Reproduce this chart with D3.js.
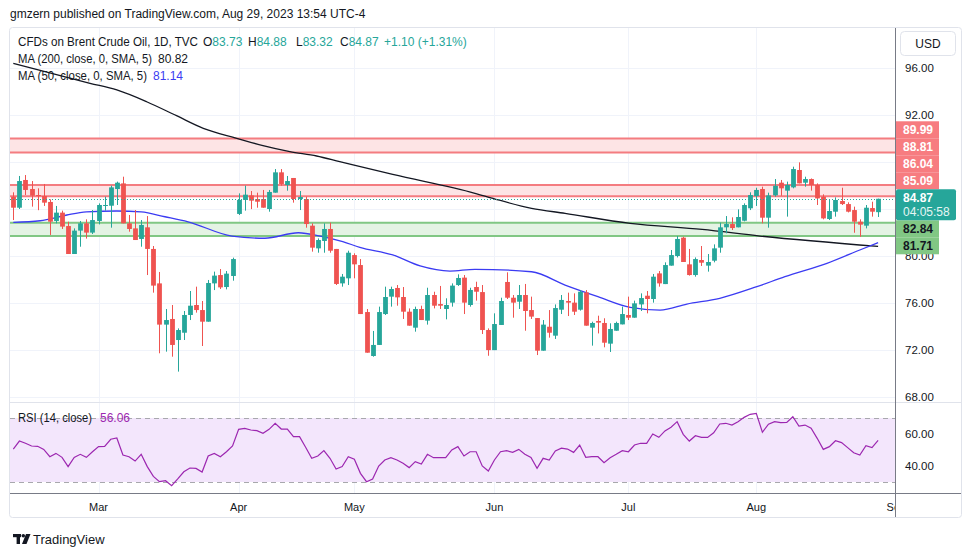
<!DOCTYPE html>
<html><head><meta charset="utf-8">
<script src="https://cdn.jsdelivr.net/npm/d3@7/dist/d3.min.js"></script>
<style>
html,body{margin:0;padding:0;background:#fff;}
svg{display:block;font-family:"Liberation Sans",Arial,sans-serif;}
</style></head><body>
<svg id="c" width="970" height="557"></svg>
<script>
// ---------- DATA (daily candles, Feb 9 – Aug 29, 2023) ----------
const opens=[85.05,84.11,86.47,85.70,85.19,85.11,84.60,82.98,83.69,82.55,80.17,82.16,82.78,81.99,82.98,84.30,84.28,85.70,86.18,82.78,
82.35,81.45,82.44,80.60,77.67,74.16,74.64,72.85,73.47,74.98,75.83,75.40,74.41,77.67,78.38,77.36,78.30,83.58,84.77,85.16,
84.85,84.85,84.00,85.39,87.12,86.04,86.64,84.85,84.85,82.58,80.65,81.28,82.30,80.60,77.67,78.10,80.08,79.23,75.23,71.49,
72.43,75.06,76.54,77.28,76.51,75.26,73.90,75.49,74.50,76.68,75.91,75.49,76.03,77.53,78.16,75.83,77.36,76.93,73.70,71.99,
74.13,77.79,76.45,76.11,76.68,75.40,74.72,71.94,73.98,73.22,75.43,76.17,76.03,75.43,76.90,73.90,74.47,74.30,72.54,73.64,
74.18,74.98,74.75,75.88,76.62,76.34,78.52,77.61,79.18,80.00,81.56,79.29,78.38,79.66,79.18,79.60,80.71,82.44,82.72,82.44,
83.00,84.06,85.10,85.70,83.26,85.16,86.24,85.56,85.84,87.32,86.24,86.55,86.04,85.05,83.15,83.77,84.68,84.42,83.91,82.92,
82.58,84.08,83.73];
const highs=[85.42,86.81,86.89,86.38,85.76,86.13,84.82,84.26,83.86,82.92,82.35,82.98,83.12,83.91,84.48,85.05,85.99,86.33,86.75,83.49,
83.91,83.06,83.40,80.85,78.64,75.49,75.83,73.84,75.32,77.02,77.39,76.17,77.96,78.67,78.89,78.72,79.86,85.33,85.99,85.53,
85.39,85.62,85.62,87.40,87.40,86.81,86.64,85.53,85.05,82.78,81.50,82.78,82.84,80.60,78.47,80.45,80.23,79.74,75.49,73.62,
75.69,77.39,77.39,77.53,77.36,75.54,75.69,75.77,77.30,76.96,77.45,76.40,77.67,78.44,78.38,77.30,77.81,77.53,73.84,75.12,
76.45,78.61,76.68,77.53,77.62,76.54,74.72,74.55,75.40,75.88,76.68,76.88,76.82,77.10,77.10,74.41,74.92,74.70,74.27,74.41,
75.69,76.54,76.20,76.82,77.02,78.47,78.72,79.46,80.51,81.70,81.64,80.60,79.88,80.85,80.17,80.99,82.84,83.40,83.29,83.97,
84.48,85.42,85.81,85.90,85.39,86.55,86.47,86.33,87.60,87.97,86.75,86.60,86.18,85.25,84.82,84.99,85.81,84.57,84.20,83.12,
84.34,84.62,84.88];
const lows=[83.06,84.00,85.19,84.20,83.90,84.26,81.79,82.78,82.30,80.17,80.17,80.79,81.48,81.87,82.69,83.86,82.41,84.34,82.78,82.07,
81.36,80.79,78.38,76.88,71.72,71.86,71.43,70.16,72.85,74.55,75.18,72.34,74.41,77.10,77.19,77.16,77.90,83.49,83.86,83.99,
84.11,84.11,83.77,85.39,85.99,85.56,84.54,83.91,82.41,80.37,80.28,80.28,80.28,77.53,77.39,77.53,78.10,75.06,71.77,71.43,
72.43,74.98,75.69,75.77,74.64,74.07,73.56,74.55,74.16,75.54,75.49,74.61,75.69,77.45,75.06,75.69,76.20,73.36,71.51,71.99,
74.13,76.34,74.75,75.49,73.64,74.64,71.57,71.94,73.05,72.94,75.06,74.89,74.98,75.35,74.07,72.37,73.41,72.23,71.83,73.64,
74.18,74.55,74.75,75.32,75.12,76.03,77.39,77.61,79.18,79.88,79.49,78.33,78.24,79.15,78.67,79.46,80.28,81.93,82.21,82.44,
82.95,83.91,84.26,82.78,82.41,85.05,85.13,83.35,85.76,86.18,85.90,85.56,84.34,83.12,83.06,83.35,84.34,83.71,81.98,81.64,
82.35,83.35,83.32];
const closes=[84.11,86.38,85.62,85.13,85.11,84.54,82.92,83.69,82.50,80.17,82.16,82.78,81.99,83.06,84.34,84.34,85.84,86.24,82.78,82.30,
81.36,82.64,80.60,77.48,74.16,74.55,72.43,73.70,74.98,75.77,75.40,74.41,77.70,78.33,77.33,78.50,79.74,84.77,85.22,84.71,
84.62,84.11,85.45,87.12,86.13,86.38,84.85,85.02,82.72,80.71,81.36,82.30,80.45,77.62,78.24,80.28,79.29,75.06,71.77,72.43,
75.23,76.51,77.19,76.48,75.26,74.07,75.49,74.55,76.68,75.77,75.77,75.83,77.48,78.13,76.03,77.11,76.96,73.70,71.99,74.21,
76.17,76.45,76.03,76.68,75.32,74.84,71.94,74.16,73.47,75.57,76.26,76.03,75.26,76.96,74.07,74.30,74.33,72.62,73.79,74.30,
75.06,74.75,75.97,76.42,76.34,78.24,77.67,79.23,80.08,81.45,79.49,78.38,79.74,79.43,79.49,80.65,82.44,82.72,82.38,83.32,
84.34,85.19,85.62,83.26,85.16,85.98,85.76,86.04,87.40,86.18,86.55,86.04,84.90,83.20,83.83,84.77,84.42,83.77,82.92,82.67,
84.11,83.77,84.87];
const rsiValues=[50.6,55.6,54.2,52.5,52.3,50.4,45.8,47.9,45.4,39.6,45.4,47.3,45.4,48.9,52.1,52.3,56.7,57.5,46.9,45.8,
43.1,47.3,39.6,33.5,30.2,30.8,27.7,31.9,36.4,38.75,38.5,36.25,46.25,47.9,45.8,48.9,52.5,62.9,63.5,62.5,
62.1,60.4,62.9,66.7,63.1,63.1,58.3,58.3,51.7,44.8,46.25,49.6,44.8,38.1,39.6,45.8,44.2,35.4,30.2,31.9,
40,43.75,45.2,43.75,41.7,39,42.7,41.25,47.3,45.2,45.2,45.2,50,52.1,46.25,48.9,48.9,40,36.9,43.75,
48.9,49.6,48.5,50.4,47.3,45.4,38.5,44.8,43.75,49.4,51.1,50.6,48.5,53.1,45.4,45.8,45.8,42.1,45.2,47.3,
49.6,48.9,53.1,54.2,54.2,60,57.9,61.9,64.2,67.7,59.8,55.6,58.9,57.9,57.9,60.8,66.25,66.7,65.6,67.7,
70.4,72.3,72.9,61.1,66.1,67.7,67.1,67.3,70.8,65,65.6,63.6,57.3,50.4,52.1,55.8,54.6,51.5,48.3,46.9,
52.7,51.5,56.06];
// moving averages: [bar index, value]
const ma200=[[0,96.40],[12.6,94.70],[17,94.13],[21.9,93.13],[26.8,91.94],[31.2,90.87],[36.7,90.02],[41,89.39],[45.4,88.88],
[49.8,88.51],[53.6,88.03],[62.3,86.94],[75.8,85.34],[79.1,84.85],[85.1,84.06],[90.6,83.63],[101.3,82.78],[113.1,82.26],
[122.6,81.70],[142,80.82]];
const ma50=[[0,82.87],[4.4,83.0],[8.8,83.49],[12,83.75],[17,83.83],[21,83.75],[24.9,83.34],[28.7,82.91],[35.9,81.70],[41.3,81.51],
[46.8,81.98],[50.4,81.70],[54.1,81.22],[56.9,80.74],[62.3,80.09],[66.8,79.15],[71.7,78.72],[75.8,78.87],[85.1,78.66],
[90.6,77.53],[96,76.54],[101.3,75.63],[106.2,75.40],[110.6,75.91],[116,76.40],[122.1,77.39],[126.7,78.24],[133.6,79.38],
[139,80.51],[142,81.14]];
const monthLabels=["Mar","Apr","May","Jun","Jul","Aug","Sep"];
const monthIdx=[14,37,56,79,101,122,145];
const priceTicks=[96,92,88,84,80,76,72,68];
const rsiTicks=[60,40];
const redLevels=[[88.81,89.99],[85.09,86.04]];
const greenLevels=[[81.71,82.84]];
const lastPrice=84.87;

// ---------- LAYOUT ----------
const svg=d3.select("#c");
const paneL=10, paneR=895, mainTop=28, mainBot=402, rsiBot=493, axisBot=517, frameR=961;
const x=d3.scaleLinear().domain([0,142]).range([13.3,878.1]);
const y=d3.scaleLinear().domain([68,96]).range([397,68]);
const yr=d3.scaleLinear().domain([40,60]).range([466,434]);
const GREEN="#26a69a", RED="#ef5350", TXT="#131722", GRID="#f0f3fa";

const defs=svg.append("defs");
defs.append("clipPath").attr("id","mainClip").append("rect").attr("x",paneL).attr("y",mainTop).attr("width",paneR-paneL).attr("height",mainBot-mainTop);
defs.append("clipPath").attr("id","rsiClip").append("rect").attr("x",paneL).attr("y",mainBot).attr("width",paneR-paneL).attr("height",rsiBot-mainBot);
defs.append("clipPath").attr("id","axClip").append("rect").attr("x",paneL).attr("y",rsiBot).attr("width",paneR-paneL).attr("height",axisBot-rsiBot);

svg.append("rect").attr("width",970).attr("height",557).attr("fill","#fff");

// header
svg.append("text").attr("x",10).attr("y",18).attr("font-size",12).attr("fill",TXT)
  .text("gmzern published on TradingView.com, Aug 29, 2023 13:54 UTC-4");

// frame
svg.append("rect").attr("x",paneL-0.5).attr("y",mainTop-0.5).attr("width",frameR-paneL+1).attr("height",axisBot-mainTop+1)
  .attr("fill","none").attr("stroke","#e0e3eb").attr("rx",3);

// grid
const grid=svg.append("g");
grid.selectAll(".hg").data(priceTicks).enter().append("line")
  .attr("x1",paneL).attr("x2",paneR).attr("y1",d=>Math.round(y(d))+0.5).attr("y2",d=>Math.round(y(d))+0.5).attr("stroke",GRID);
grid.selectAll(".rg").data(rsiTicks).enter().append("line")
  .attr("x1",paneL).attr("x2",paneR).attr("y1",d=>Math.round(yr(d))+0.5).attr("y2",d=>Math.round(yr(d))+0.5).attr("stroke",GRID);
grid.selectAll(".vg").data(monthIdx.slice(0,6)).enter().append("line")
  .attr("y1",mainTop).attr("y2",rsiBot).attr("x1",d=>Math.round(x(d))+0.5).attr("x2",d=>Math.round(x(d))+0.5).attr("stroke",GRID);

// main pane
const main=svg.append("g").attr("clip-path","url(#mainClip)");
redLevels.forEach(([lo,hi])=>{
  main.append("rect").attr("x",paneL).attr("width",paneR-paneL).attr("y",y(hi)).attr("height",y(lo)-y(hi)).attr("fill","#fde4e5");
  [lo,hi].forEach(v=>main.append("line").attr("x1",paneL).attr("x2",paneR).attr("y1",y(v)).attr("y2",y(v)).attr("stroke","#f47c80").attr("stroke-width",2));
});
greenLevels.forEach(([lo,hi])=>{
  main.append("rect").attr("x",paneL).attr("width",paneR-paneL).attr("y",y(hi)).attr("height",y(lo)-y(hi)).attr("fill","#e4f3e4");
  [lo,hi].forEach(v=>main.append("line").attr("x1",paneL).attr("x2",paneR).attr("y1",y(v)).attr("y2",y(v)).attr("stroke","#81c784").attr("stroke-width",2));
});

const lineGen=d3.line().x(d=>x(d[0])).y(d=>y(d[1])).curve(d3.curveMonotoneX);
main.append("path").attr("d",lineGen(ma200)).attr("fill","none").attr("stroke","#131722").attr("stroke-width",1.3);
main.append("path").attr("d",lineGen(ma50)).attr("fill","none").attr("stroke","#3b3bf2").attr("stroke-width",1.3);

const idx=d3.range(closes.length);
const cg=main.append("g");
cg.selectAll(".w").data(idx).enter().append("line")
  .attr("x1",i=>Math.round(x(i))+0.5).attr("x2",i=>Math.round(x(i))+0.5)
  .attr("y1",i=>y(highs[i])).attr("y2",i=>y(lows[i]))
  .attr("stroke",i=>closes[i]>=opens[i]?GREEN:RED).attr("stroke-width",1);
cg.selectAll(".b").data(idx).enter().append("rect")
  .attr("x",i=>Math.round(x(i))+0.5-2.4).attr("width",4.8)
  .attr("y",i=>y(Math.max(opens[i],closes[i])))
  .attr("height",i=>Math.max(1,Math.abs(y(opens[i])-y(closes[i]))))
  .attr("fill",i=>closes[i]>=opens[i]?GREEN:RED);

main.append("line").attr("x1",paneL).attr("x2",paneR).attr("y1",Math.round(y(lastPrice))+0.5).attr("y2",Math.round(y(lastPrice))+0.5)
  .attr("stroke",GREEN).attr("stroke-dasharray","1,2");

// legend
const lg=svg.append("g").attr("font-size",12);
lg.append("text").attr("x",18).attr("y",46).attr("fill",TXT).attr("textLength",180).attr("lengthAdjust","spacingAndGlyphs").text("CFDs on Brent Crude Oil, 1D, TVC");
const ohlc=[["O","83.73",203],["H","84.88",248],["L","83.32",296],["C","84.87",340]];
ohlc.forEach(([k,v,px])=>{
  const t=lg.append("text").attr("x",px).attr("y",46);
  t.append("tspan").attr("fill",TXT).text(k);
  t.append("tspan").attr("fill",GREEN).text(v);
});
lg.append("text").attr("x",384).attr("y",46).attr("fill",GREEN).text("+1.10 (+1.31%)");
lg.append("text").attr("x",18).attr("y",63).attr("fill",TXT).attr("textLength",134).attr("lengthAdjust","spacingAndGlyphs").text("MA (200, close, 0, SMA, 5)");
lg.append("text").attr("x",158).attr("y",63).attr("fill",TXT).text("80.82");
lg.append("text").attr("x",18).attr("y",80).attr("fill",TXT).attr("textLength",129).attr("lengthAdjust","spacingAndGlyphs").text("MA (50, close, 0, SMA, 5)");
lg.append("text").attr("x",153).attr("y",80).attr("fill","#3b3bf2").text("81.14");

// separator
svg.append("line").attr("x1",paneL).attr("x2",frameR).attr("y1",mainBot+0.5).attr("y2",mainBot+0.5).attr("stroke","#e0e3eb");

// RSI pane
const rp=svg.append("g").attr("clip-path","url(#rsiClip)");
rp.append("rect").attr("x",paneL).attr("width",paneR-paneL).attr("y",yr(70)).attr("height",yr(30)-yr(70)).attr("fill","#f3e6fc");
[70,30].forEach(v=>rp.append("line").attr("x1",paneL).attr("x2",paneR).attr("y1",Math.round(yr(v))+0.5).attr("y2",Math.round(yr(v))+0.5)
  .attr("stroke","#a8a8ad").attr("stroke-dasharray","5,4"));
rp.append("path").attr("d",d3.line().x((d,i)=>x(i)).y(d=>yr(d))(rsiValues)).attr("fill","none").attr("stroke","#9c27b0").attr("stroke-width",1.2);
const rl=svg.append("g").attr("font-size",12);
rl.append("text").attr("x",18).attr("y",422).attr("fill",TXT).attr("textLength",74).attr("lengthAdjust","spacingAndGlyphs").text("RSI (14, close)");
rl.append("text").attr("x",100).attr("y",422).attr("fill","#9c27b0").text("56.06");

// time axis
svg.append("line").attr("x1",paneL).attr("x2",frameR).attr("y1",rsiBot+0.5).attr("y2",rsiBot+0.5).attr("stroke","#787b86");
const ta=svg.append("g").attr("clip-path","url(#axClip)");
ta.selectAll("text").data(monthIdx).enter().append("text")
  .attr("x",d=>x(d)).attr("y",511).attr("text-anchor","middle").attr("font-size",11).attr("fill",TXT)
  .text((d,i)=>monthLabels[i]);

// price label boxes (stacked like the platform does)
const LH=17;
const curTop=y(lastPrice)-9.5, curBot=y(lastPrice)+21.5;
const above=[...redLevels.flat()].sort((a,b)=>a-b);
const labels=[];
let lim=curTop;
above.forEach(v=>{const bot=Math.min(y(v)+LH/2,lim);labels.push({v,top:bot-LH,fill:"#f77c80",tc:"#fff"});lim=bot-LH;});
const below=[...greenLevels.flat()].sort((a,b)=>b-a);
lim=curBot;
below.forEach(v=>{const top=Math.max(y(v)-LH/2,lim);labels.push({v,top,fill:"#81c784",tc:TXT});lim=top+LH;});
const boxes=labels.map(l=>[l.top,l.top+LH]).concat([[curTop,curBot]]);
const covered=t=>boxes.some(([a,b])=>y(t)-5>a-1 && y(t)+5<b+1);

// price axis
svg.append("line").attr("x1",paneR+0.5).attr("x2",paneR+0.5).attr("y1",mainTop).attr("y2",axisBot).attr("stroke","#787b86");
const pa=svg.append("g").attr("font-size",11.5).attr("fill",TXT);
pa.selectAll(".pt").data(priceTicks.filter(t=>!covered(t))).enter().append("text").attr("x",905).attr("y",d=>y(d)+4).text(d=>d.toFixed(2));
pa.selectAll(".rt").data(rsiTicks).enter().append("text").attr("x",905).attr("y",d=>yr(d)+4).text(d=>d.toFixed(2));

// USD button
svg.append("rect").attr("x",900.5).attr("y",31.5).attr("width",55).attr("height",24).attr("rx",4).attr("fill","#fff").attr("stroke","#e0e3eb");
svg.append("text").attr("x",928).attr("y",48).attr("text-anchor","middle").attr("font-size",12).attr("fill",TXT).text("USD");

const lb=svg.append("g");
labels.forEach(l=>{
  lb.append("rect").attr("x",896).attr("y",l.top).attr("width",43).attr("height",LH).attr("fill",l.fill);
  lb.append("text").attr("x",903).attr("y",l.top+12.5).attr("font-size",12).attr("font-weight","bold").attr("fill",l.tc).text(l.v.toFixed(2));
});
lb.append("rect").attr("x",896).attr("y",curTop).attr("width",60).attr("height",curBot-curTop).attr("rx",2).attr("fill",GREEN);
lb.append("text").attr("x",903).attr("y",curTop+13).attr("font-size",12).attr("font-weight","bold").attr("fill","#fff").text(lastPrice.toFixed(2));
lb.append("text").attr("x",903).attr("y",curTop+27).attr("font-size",12).attr("fill","#e6f6f4").text("04:05:58");

// footer logo + text
const fl=svg.append("g").attr("fill",TXT);
fl.append("rect").attr("x",13).attr("y",534).attr("width",8).attr("height",3.2);
fl.append("rect").attr("x",16.6).attr("y",534).attr("width",3.4).attr("height",10);
fl.append("circle").attr("cx",23.3).attr("cy",535.8).attr("r",1.8);
fl.append("path").attr("d","M26,534 L30.5,534 L26.5,544 L22,544 Z");
svg.append("text").attr("x",33).attr("y",544).attr("font-size",13).attr("fill",TXT).text("TradingView");
</script>
</body></html>
